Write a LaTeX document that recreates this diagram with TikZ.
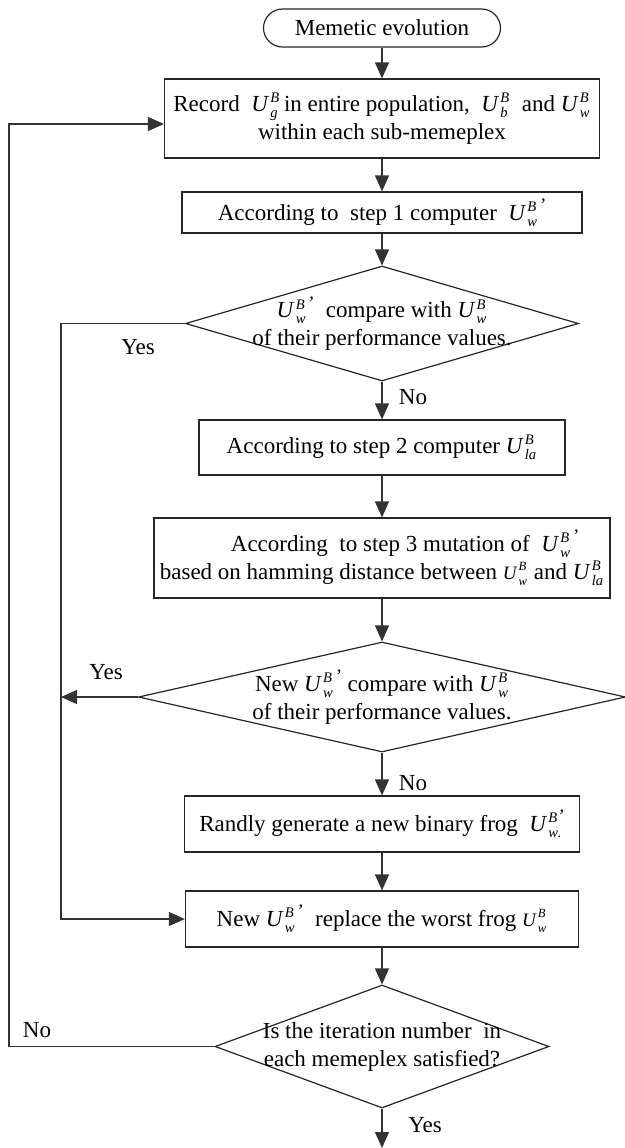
\documentclass[tikz,border=0pt]{standalone}
\usepackage{fontspec}
\setmainfont{Liberation Serif}
\usetikzlibrary{arrows.meta,shapes.geometric}
\newcommand{\scr}{\fontsize{7.3}{7.3}\selectfont\itshape}
\newcommand{\sscr}{\fontsize{6.3}{6.3}\selectfont\itshape}
\newcommand{\Uv}[2]{$\mbox{\itshape U}^{\mbox{\scr\,#1}}_{\mbox{\scr\,#2}}$}
\newcommand{\Us}[2]{$\mbox{\fontsize{9.5}{9.5}\selectfont\itshape U}^{\mbox{\sscr\,#1}}_{\mbox{\sscr\,#2}}$}
\newcommand{\Up}[2]{$\mbox{\itshape U}^{\mbox{\scr\,#1\,\fontsize{9.5}{9.5}\selectfont'}}_{\mbox{\scr\,#2}}$}
\newcommand{\Ubang}[2]{$\mbox{\itshape U}^{\mbox{\scr\,#1\fontsize{9.5}{9.5}\selectfont'}}_{\mbox{\scr\,#2\kern-0.3pt\upshape.}}$}
\tikzset{
  base/.style={font=\fontsize{11.5}{14}\selectfont, inner sep=0pt, align=center},
  box/.style={base, draw=black!85, line width=0.6pt, rectangle},
  term/.style={box, rounded corners=9.5pt},
  dia/.style={draw=black!85, line width=0.6pt, diamond, inner sep=0pt},
  lab/.style={base},
  arr/.style={draw=black!80, line width=0.6pt, -{Triangle[length=8pt,width=7pt]}},
  ln/.style={draw=black!80, line width=0.6pt}
}
\begin{document}
\begin{tikzpicture}[x=0.5pt,y=-0.5pt]
\useasboundingbox (0,0) rectangle (625,1148);
\node[term, minimum width=118.5pt, minimum height=19pt] (t) at (382,28) {Memetic evolution};
\node[box, minimum width=217.5pt, minimum height=39.5pt] (b1) at (382,118.5)
  {Record\ \ \Uv{B}{g}\,in entire population,\ \ \Uv{B}{b}\ \ and \Uv{B}{w}\\within each sub-memeplex};
\node[box, minimum width=200pt, minimum height=20.5pt] (b2) at (382,212.5)
  {According to\ \ step 1 computer\ \ \Up{B}{w}};
\node[dia, minimum width=196.5pt, minimum height=57.5pt] (d1) at (382,323.5) {};
\node[base] at (d1) {\Up{B}{w}\ \ compare with \Uv{B}{w}\\of their performance values.};
\node[box, minimum width=183pt, minimum height=27.5pt] (b3) at (382,447.5)
  {According to step 2 computer \Uv{B}{la}};
\node[box, minimum width=228pt, minimum height=40pt] (b4) at (382,558)
  {\hspace*{2em}According\ \ to step 3 mutation of\ \ \Up{B}{w}\\based on hamming distance between\ \Us{B}{w} and\ \Uv{B}{la}};
\node[dia, minimum width=243.5pt, minimum height=55pt] (d2) at (382,697) {};
\node[base] at (d2) {New \Up{B}{w} compare with \Uv{B}{w}\\of their performance values.};
\node[box, minimum width=197.5pt, minimum height=28pt] (b5) at (382,824)
  {Randly generate a new binary frog\ \ \Ubang{B}{w}};
\node[box, minimum width=196.5pt, minimum height=28pt] (b6) at (382,919)
  {New \Up{B}{w}\ \ replace the worst frog \Us{B}{w}};
\node[dia, minimum width=167pt, minimum height=61.5pt] (d3) at (382,1046.5) {};
\node[base] at (d3) {Is the iteration number\ \ in\\each memeplex satisfied?};
\coordinate (L1) at (61,0);
\coordinate (L0) at (9,0);
\coordinate (end) at (382,1148);
\draw[arr] (t) -- (b1);
\draw[arr] (b1) -- (b2);
\draw[arr] (b2) -- (d1);
\draw[arr] (d1) -- (b3);
\draw[arr] (b3) -- (b4);
\draw[arr] (b4) -- (d2);
\draw[arr] (d2) -- (b5);
\draw[arr] (b5) -- (b6);
\draw[arr] (b6) -- (d3);
\draw[arr] (d3.south) -- (end);
\draw[arr] (d1.west) -- (d1.west -| L1) |- (b6.west);
\draw[arr] (d2.west) -- (d2.west -| L1);
\draw[arr] (d3.west) -- (d3.west -| L0) |- ([yshift=-2.75pt]b1.west);
\node[lab] at (138,347) {Yes};
\node[lab] at (413,397) {No};
\node[lab] at (106,672) {Yes};
\node[lab] at (413,783) {No};
\node[lab] at (37,1030) {No};
\node[lab] at (425,1125) {Yes};
\end{tikzpicture}
\end{document}
